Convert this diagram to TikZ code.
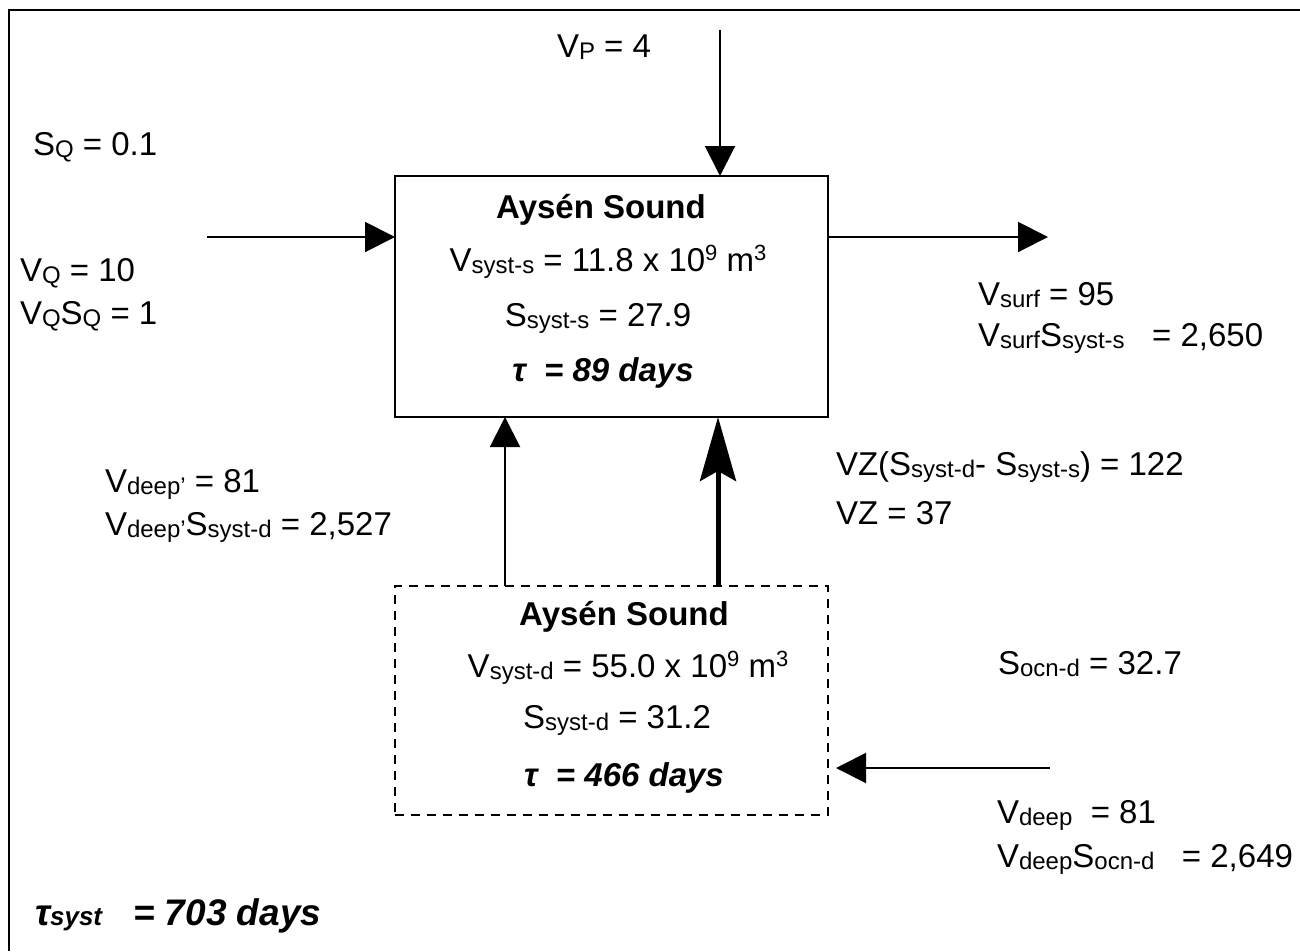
\documentclass[tikz,border=0pt]{standalone}
\usepackage{fontspec}
\setmainfont{Liberation Sans}
\usetikzlibrary{arrows.meta,calc}
\newcommand\lowtxt[1]{\raisebox{-2pt}{\fontsize{24}{24}\selectfont #1}}
\newcommand\hightxt[1]{\raisebox{11pt}{\fontsize{22}{22}\selectfont #1}}
\begin{document}
\begin{tikzpicture}[x=1pt,y=-1pt,
  every node/.style={inner sep=0pt,outer sep=0pt,font=\fontsize{33}{38}\selectfont},
  lbl/.style={anchor=west},
  ctr/.style={anchor=center},
  ttl/.style={anchor=center,font=\fontsize{33}{38}\selectfont\bfseries},
  tau/.style={anchor=center,font=\fontsize{33}{38}\selectfont\bfseries\itshape},
  boxsolid/.style={draw,line width=2pt,minimum width=433pt,minimum height=241pt},
  boxdash/.style={draw,line width=2pt,dash pattern=on 9pt off 7pt,minimum width=433pt,minimum height=229pt},
  arr/.style={line width=2pt,-{Triangle[length=30pt,width=30pt]}},
  thickarr/.style={line width=5pt,-{Stealth[length=64pt,width=36pt,inset=10pt]}}]
\useasboundingbox (0,0) rectangle (1300,951);
\draw[line width=2.5pt] (9,951) -- (9,10) -- (1300,10);

% boxes
\node[boxsolid] (top) at (611.5,296.5) {};
\node[boxdash] (bot) at (611.5,700.5) {};

% top box text
\node[ttl] (t1) at (601,210) {Aysén Sound};
\node[ctr] (t2) at (608,262) {V\lowtxt{syst-s} = 11.8 x 10\hightxt{9} m\hightxt{3}};
\node[ctr] (t3) at (598,318) {S\lowtxt{syst-s} = 27.9};
\node[tau] (t4) at (603,373) {τ\ \ = 89 days};

% bottom box text
\node[ttl] (b1) at (624,617) {Aysén Sound};
\node[ctr] (b2) at (628,668) {V\lowtxt{syst-d} = 55.0 x 10\hightxt{9} m\hightxt{3}};
\node[ctr] (b3) at (617,720) {S\lowtxt{syst-d} = 31.2};
\node[tau] (b4) at (624,778) {τ\ \ = 466 days};

% labels
\node[lbl] (vp) at (557,47) {V\lowtxt{P} = 4};
\node[lbl] (sq) at (33,147) {S\lowtxt{Q} = 0.1};
\node[lbl] (vq) at (20,273) {V\lowtxt{Q} = 10};
\node[lbl] (vqsq) at (20,316) {V\lowtxt{Q}S\lowtxt{Q} = 1};
\node[lbl] (vs) at (978,295) {V\lowtxt{surf} = 95};
\node[lbl] (vss) at (978,338) {V\lowtxt{surf}S\lowtxt{syst-s}\ \ \ = 2,650};
\node[lbl] (vd1) at (105,484) {V\lowtxt{deep'} = 81};
\node[lbl] (vd2) at (105,527) {V\lowtxt{deep'}S\lowtxt{syst-d} = 2,527};
\node[lbl] (vz1) at (836,467) {VZ(S\lowtxt{syst-d}- S\lowtxt{syst-s}) = 122};
\node[lbl] (vz2) at (836,513) {VZ = 37};
\node[lbl] (so) at (998,664) {S\lowtxt{ocn-d} = 32.7};
\node[lbl] (vdp1) at (997,815) {V\lowtxt{deep}\ \ = 81};
\node[lbl] (vdp2) at (997,859) {V\lowtxt{deep}S\lowtxt{ocn-d}\ \ \ = 2,649};
\node[lbl,font=\fontsize{37}{42}\selectfont\bfseries\itshape] (tsys) at (35,916) {τ{\fontsize{26}{26}\selectfont syst}\ \ \ = 703 days};

% connectors
\coordinate (vpin) at (720,30);
\coordinate (qin) at (207,237);
\coordinate (surfout) at (1048,237);
\coordinate (deepin) at (1050,768);
\draw[arr] (vpin) -- (vpin |- top.north);
\draw[arr] (qin) -- (qin -| top.west);
\draw[arr] (surfout -| top.east) -- (surfout);
\draw[arr] ($(bot.north west)+(110,0)$) -- ($(top.south west)+(110,0)$);
\draw[thickarr] ($(bot.north west)+(323,0)$) -- ($(top.south west)+(323,0)$);
\draw[arr] (deepin) -- ($(deepin -| bot.east)+(8,0)$);
\end{tikzpicture}
\end{document}
